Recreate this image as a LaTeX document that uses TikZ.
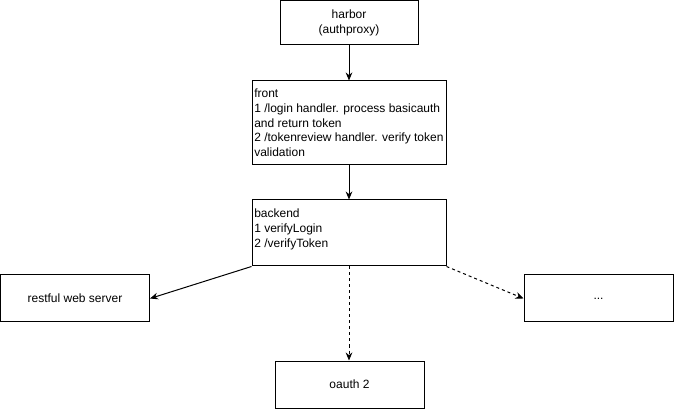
\documentclass[tikz,border=0pt]{standalone}
\usepackage{fontspec}
\setmainfont{Liberation Sans}
\usetikzlibrary{arrows.meta}
\begin{document}
\begin{tikzpicture}[x=0.75pt,y=-0.75pt,
  font=\fontsize{9}{10.9}\selectfont,
  box/.style={draw, line width=0.75pt, inner sep=0pt, align=center},
  inner/.style={inner sep=0pt, align=left, anchor=north west},
  conn/.style={line width=0.75pt, -{Stealth[length=6pt,width=5pt]}},
  dconn/.style={conn, dash pattern=on 2.25pt off 2.25pt}]
\useasboundingbox (0,0) rectangle (674,409);
\node[box, minimum width=103.5pt, minimum height=33pt] (harbor) at (349,23) {harbor\\(authproxy)};
\node[box, minimum width=145.5pt, minimum height=63pt] (front) at (349,123) {};
\node[inner] (fronttext) at (254,89) {front\\1 /login handler. process basicauth\\and return token\\2 /tokenreview handler. verify token\\validation};
\node[box, minimum width=145.5pt, minimum height=49.5pt] (backend) at (349,233) {};
\node[inner] (backendtext) at (254,209) {backend\\1 verifyLogin\\2 /verifyToken};
\node[box, minimum width=111.75pt, minimum height=35.25pt] (restful) at (75,298.5) {restful web server};
\node[box, minimum width=111.75pt, minimum height=35.25pt] (dots) at (598.5,298.5) {...};
\node[box, minimum width=111.75pt, minimum height=35.25pt] (oauth) at (349.5,384.5) {oauth 2};
\draw[conn] (harbor.south) -- (front.north);
\draw[conn] (front.south) -- (backend.north);
\draw[conn] (backend.south west) -- (restful.east);
\draw[dconn] (backend.south) -- (backend.south |- oauth.north);
\draw[dconn] (backend.south east) -- (dots.west);
\end{tikzpicture}
\end{document}
